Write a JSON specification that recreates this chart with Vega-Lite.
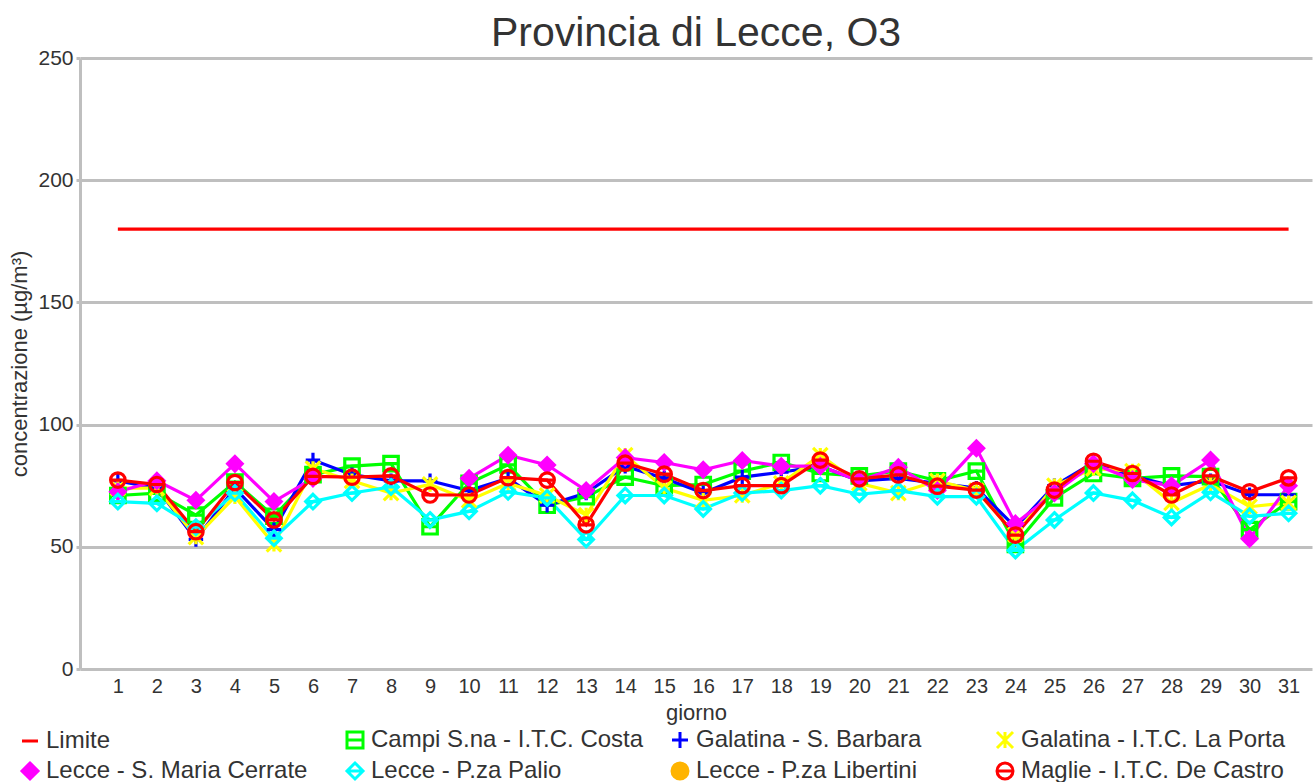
{
  "$schema": "https://vega.github.io/schema/vega-lite/v6.json",
  "autosize": "none",
  "width": 1232,
  "height": 611,
  "padding": {"left": 80, "top": 58, "right": 4, "bottom": 113},
  "background": "white",
  "config": {"font": "Liberation Sans", "view": {"stroke": null}},
  "title": {"text": "Provincia di Lecce, O3", "fontSize": 41, "fontWeight": "normal", "color": "#333333", "anchor": "middle", "offset": -8, "font": "Liberation Sans"},
  "datasets": {
    "stazioni": [
      {"code": "Limite", "nome": "Limite"},
      {"code": "Campi", "nome": "Campi S.na - I.T.C.  Costa"},
      {"code": "Barbara", "nome": "Galatina - S. Barbara"},
      {"code": "LaPorta", "nome": "Galatina - I.T.C.  La Porta"},
      {"code": "Cerrate", "nome": "Lecce - S. Maria Cerrate"},
      {"code": "Palio", "nome": "Lecce - P.za Palio"},
      {"code": "Libertini", "nome": " Lecce - P.za Libertini"},
      {"code": "Maglie", "nome": "Maglie - I.T.C. De Castro"}
    ]
  },
  "data": {"values": [
    {"giorno": 1, "Limite": 180, "Campi": 71, "Barbara": 77, "LaPorta": 74, "Cerrate": 72.5, "Palio": 68.5, "Maglie": 77.3},
    {"giorno": 2, "Limite": 180, "Campi": 72, "Barbara": 74, "LaPorta": 74, "Cerrate": 77, "Palio": 67.8, "Maglie": 75.5},
    {"giorno": 3, "Limite": 180, "Campi": 63, "Barbara": 53, "LaPorta": 54, "Cerrate": 69, "Palio": 58, "Maglie": 56.2},
    {"giorno": 4, "Limite": 180, "Campi": 76.5, "Barbara": 74, "LaPorta": 70.5, "Cerrate": 84, "Palio": 72, "Maglie": 76.3},
    {"giorno": 5, "Limite": 180, "Campi": 62.5, "Barbara": 57, "LaPorta": 51, "Cerrate": 68.5, "Palio": 53.5, "Maglie": 61},
    {"giorno": 6, "Limite": 180, "Campi": 79.5, "Barbara": 85.5, "LaPorta": 82, "Cerrate": 78, "Palio": 68.5, "Maglie": 78.8},
    {"giorno": 7, "Limite": 180, "Campi": 83, "Barbara": 79.5, "LaPorta": 77, "Palio": 72, "Maglie": 78.5},
    {"giorno": 8, "Limite": 180, "Campi": 84, "Barbara": 77, "LaPorta": 72, "Palio": 74.5, "Maglie": 79},
    {"giorno": 9, "Limite": 180, "Campi": 58.2, "Barbara": 77, "LaPorta": 75.5, "Palio": 61, "Maglie": 71.2},
    {"giorno": 10, "Limite": 180, "Campi": 76, "Barbara": 73, "LaPorta": 69, "Cerrate": 78, "Palio": 64.5, "Maglie": 71.2},
    {"giorno": 11, "Limite": 180, "Campi": 83.5, "Barbara": 78, "LaPorta": 76, "Cerrate": 87.5, "Palio": 72.5, "Maglie": 78.3},
    {"giorno": 12, "Limite": 180, "Campi": 67, "Barbara": 67, "LaPorta": 71, "Cerrate": 83.5, "Palio": 70, "Maglie": 77.3},
    {"giorno": 13, "Limite": 180, "Campi": 70.5, "Barbara": 72, "LaPorta": 63, "Cerrate": 73, "Palio": 53, "Maglie": 59},
    {"giorno": 14, "Limite": 180, "Campi": 78.5, "Barbara": 83, "LaPorta": 87.5, "Cerrate": 86.5, "Palio": 71, "Maglie": 84.2},
    {"giorno": 15, "Limite": 180, "Campi": 75, "Barbara": 78, "LaPorta": 74, "Cerrate": 84.5, "Palio": 71, "Maglie": 79.7},
    {"giorno": 16, "Limite": 180, "Campi": 75.5, "Barbara": 72, "LaPorta": 69, "Cerrate": 81.5, "Palio": 65.5, "Maglie": 73},
    {"giorno": 17, "Limite": 180, "Campi": 81, "Barbara": 78.5, "LaPorta": 71, "Cerrate": 85.3, "Palio": 72, "Maglie": 75},
    {"giorno": 18, "Limite": 180, "Campi": 84.5, "Barbara": 80.5, "LaPorta": 76, "Cerrate": 83, "Palio": 73, "Maglie": 75},
    {"giorno": 19, "Limite": 180, "Campi": 80, "Barbara": 83, "LaPorta": 87.5, "Cerrate": 83, "Palio": 75, "Maglie": 85.5},
    {"giorno": 20, "Limite": 180, "Campi": 79, "Barbara": 77, "LaPorta": 76, "Cerrate": 77, "Palio": 71.5, "Maglie": 77.8},
    {"giorno": 21, "Limite": 180, "Campi": 81, "Barbara": 78, "LaPorta": 72, "Cerrate": 82.5, "Palio": 73, "Maglie": 79.4},
    {"giorno": 22, "Limite": 180, "Campi": 77, "Barbara": 76, "LaPorta": 77, "Cerrate": 73, "Palio": 70.5, "Maglie": 74.8},
    {"giorno": 23, "Limite": 180, "Campi": 81, "Barbara": 74, "LaPorta": 73, "Cerrate": 90.3, "Palio": 70.5, "Maglie": 73.2},
    {"giorno": 24, "Limite": 180, "Campi": 51, "Barbara": 58, "LaPorta": 55, "Cerrate": 59.5, "Palio": 48.5, "Maglie": 54.8},
    {"giorno": 25, "Limite": 180, "Campi": 70, "Barbara": 75, "LaPorta": 75, "Cerrate": 72, "Palio": 61, "Maglie": 73.2},
    {"giorno": 26, "Limite": 180, "Campi": 80, "Barbara": 84.5, "LaPorta": 82, "Cerrate": 84, "Palio": 72, "Maglie": 85},
    {"giorno": 27, "Limite": 180, "Campi": 78, "Barbara": 79, "LaPorta": 81, "Cerrate": 77.5, "Palio": 69, "Maglie": 80},
    {"giorno": 28, "Limite": 180, "Campi": 79, "Barbara": 75, "LaPorta": 68, "Cerrate": 75, "Palio": 62, "Maglie": 71.2},
    {"giorno": 29, "Limite": 180, "Campi": 78.7, "Barbara": 77, "LaPorta": 75.5, "Cerrate": 85.5, "Palio": 72.3, "Maglie": 79},
    {"giorno": 30, "Limite": 180, "Campi": 57, "Barbara": 71.3, "LaPorta": 66.4, "Cerrate": 53.3, "Palio": 62.5, "Maglie": 72.5},
    {"giorno": 31, "Limite": 180, "Campi": 68.5, "Barbara": 71.3, "LaPorta": 68, "Cerrate": 75, "Palio": 63.7, "Maglie": 78.2}
  ]},
  "transform": [
    {"fold": ["Limite", "Campi", "Barbara", "LaPorta", "Cerrate", "Palio", "Libertini", "Maglie"], "as": ["stazione", "valore"]},
    {"lookup": "stazione", "from": {"data": {"name": "stazioni"}, "key": "code", "fields": ["nome"]}}
  ],
  "encoding": {
    "x": {"field": "giorno", "type": "quantitative",
      "scale": {"domain": [0.03, 31.6], "nice": false, "zero": false},
      "axis": {"values": [1,2,3,4,5,6,7,8,9,10,11,12,13,14,15,16,17,18,19,20,21,22,23,24,25,26,27,28,29,30,31], "format": "d", "grid": false, "domain": false, "ticks": false, "labelFontSize": 20, "labelColor": "#333333", "labelPadding": 7, "labelFlush": false, "labelOverlap": false, "title": "giorno", "titleFontSize": 22, "titleFontWeight": "normal", "titleColor": "#333333", "titlePadding": 6}},
    "y": {"field": "valore", "type": "quantitative",
      "scale": {"domain": [0, 250], "nice": false},
      "axis": {"values": [0, 50, 100, 150, 200, 250], "grid": true, "gridColor": "#bfbfbf", "gridWidth": 3, "domain": true, "domainColor": "#bfbfbf", "domainWidth": 3, "ticks": true, "tickSize": 4, "tickColor": "#bfbfbf", "tickWidth": 3, "labelFontSize": 21, "labelColor": "#333333", "labelPadding": 3, "title": "concentrazione (µg/m³)", "titleFontSize": 22, "titleFontWeight": "normal", "titleColor": "#333333", "titlePadding": 6}}
  },
  "layer": [
    {
      "mark": {"type": "line", "strokeWidth": 3.2},
      "encoding": {
        "color": {"field": "nome", "type": "nominal",
          "scale": {"domain": ["Limite", "Campi S.na - I.T.C.  Costa", "Galatina - S. Barbara", "Galatina - I.T.C.  La Porta", "Lecce - S. Maria Cerrate", "Lecce - P.za Palio", " Lecce - P.za Libertini", "Maglie - I.T.C. De Castro"],
            "range": ["#ff0000", "#00ff00", "#0000ff", "#ffff00", "#ff00ff", "#00ffff", "#ffb400", "#ff0000"]},
          "legend": {"title": null, "orient": "none", "legendX": -62, "legendY": 670, "direction": "horizontal", "columns": 4, "gridAlign": "all", "columnPadding": 16, "rowPadding": 3, "labelFontSize": 24, "labelColor": "#333333", "labelOffset": 4, "symbolSize": 256, "symbolStrokeWidth": 3, "labelLimit": 400,
            "encode": {"symbols": {"update": {"shape": {"scale": "shape", "field": "value"}, "fill": {"scale": "fill", "field": "value"}, "stroke": {"scale": "color", "field": "value"}, "strokeWidth": {"value": 3}, "opacity": {"value": 1}}}}}}
      }
    },
    {
      "transform": [{"filter": "datum.stazione !== 'Limite' && isValid(datum.valore)"}],
      "mark": {"type": "point", "strokeWidth": 3.2, "size": 210, "opacity": 1, "fillOpacity": 1},
      "encoding": {
        "stroke": {"field": "nome", "type": "nominal", "legend": null,
          "scale": {"domain": ["Limite", "Campi S.na - I.T.C.  Costa", "Galatina - S. Barbara", "Galatina - I.T.C.  La Porta", "Lecce - S. Maria Cerrate", "Lecce - P.za Palio", " Lecce - P.za Libertini", "Maglie - I.T.C. De Castro"],
            "range": ["#ff0000", "#00ff00", "#0000ff", "#ffff00", "#ff00ff", "#00ffff", "#ffb400", "#ff0000"]}},
        "fill": {"field": "nome", "type": "nominal", "legend": null,
          "scale": {"domain": ["Limite", "Campi S.na - I.T.C.  Costa", "Galatina - S. Barbara", "Galatina - I.T.C.  La Porta", "Lecce - S. Maria Cerrate", "Lecce - P.za Palio", " Lecce - P.za Libertini", "Maglie - I.T.C. De Castro"],
            "range": ["#ff0000", "transparent", "#0000ff", "#ffff00", "#ff00ff", "transparent", "#ffb400", "transparent"]}},
        "shape": {"field": "nome", "type": "nominal", "legend": null,
          "scale": {"domain": ["Limite", "Campi S.na - I.T.C.  Costa", "Galatina - S. Barbara", "Galatina - I.T.C.  La Porta", "Lecce - S. Maria Cerrate", "Lecce - P.za Palio", " Lecce - P.za Libertini", "Maglie - I.T.C. De Castro"],
            "range": ["stroke", "M-1,-1H1V1H-1ZM-1,0H1", "M-1,0H1M0,-1V1", "M-1,-1L1,1M-1,1L1,-1M0,-1V1", "diamond", "M0,-1L1,0L0,1L-1,0ZM-1,0H1", "circle", "M-1,0A1,1 0 1,0 1,0A1,1 0 1,0 -1,0ZM-1,0H1"]}}
      }
    }
  ]
}
